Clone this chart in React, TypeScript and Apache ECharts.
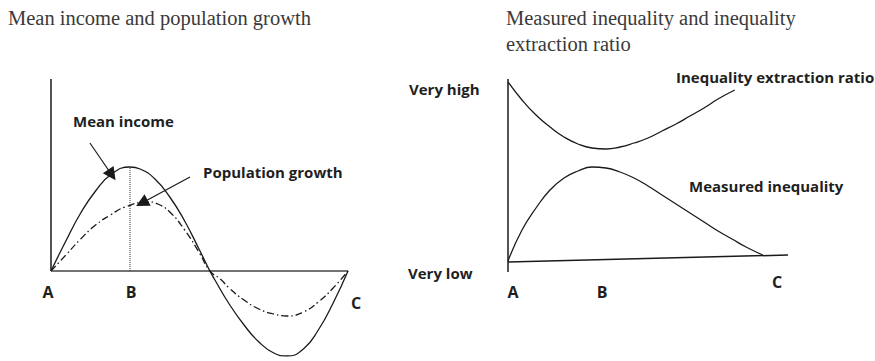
import React, { useEffect, useRef } from "react";
import * as echarts from "echarts";

// ---- Left panel: mean income & population growth (x: A=0 .. C=100) ----
const meanX = [0, 5, 10, 15, 20, 26.6, 30, 35, 40, 45, 50, 53.5, 55, 60, 65, 70, 75, 79.5, 85, 90, 95, 100];
const meanIncome = [0, 30, 58, 80, 96, 104, 102, 92, 74, 50, 21, 0, -8, -33, -54, -71, -82, -85, -78, -59, -32, 0];
const popX = [0, 5, 10, 15, 20, 25, 32.7, 36, 40, 45, 50, 53.5, 57, 60, 65, 70, 75, 79.5, 85, 90, 95, 100];
const popGrowth = [0, 16, 32, 46, 56, 64, 69, 67, 59, 41, 18, 0, -8, -17, -29, -38, -43, -45, -41, -31, -17, 0];
const leftXAxisLine = [[0, 0], [100, 0]];
const leftYAxisLine = [[0, 0], [0, 192]];
const bLine = [[26.6, 0], [26.6, 104]];
const arrowMean = [[13.1, 128], [20.5, 96]];
const arrowPop = [[46.8, 94], [30.6, 68]];

// ---- Right panel: measured inequality & extraction ratio ----
const ierX = [0, 5, 10, 15, 20, 25, 30, 35, 40, 45, 50, 55, 60, 65, 70, 75, 81];
const ier = [190, 172, 157, 145, 135, 128, 124, 123, 125, 129, 134, 141, 148, 156, 164, 173, 182];
const miX = [0, 5, 10, 15, 20, 25, 30, 35, 40, 45, 50, 55, 60, 65, 70, 75, 80, 85, 91];
const mi = [11, 42, 64, 82, 94, 101, 105, 104, 100, 94, 86, 77, 68, 59, 50, 41, 33, 25, 17];
const rightXAxisLine = [[0, 10], [100, 17]];
const rightYAxisLine = [[0, 0], [0, 193]];

const titles = ["Mean income and population growth", "Measured inequality and inequality", "extraction ratio"];
const pointLabels = ["A", "B", "C"];

const zip = (xs: number[], ys: number[]) => xs.map((x, i) => [x, ys[i]]);

export default function App() {
  const ref = useRef<HTMLDivElement>(null);
  useEffect(() => {
    if (!ref.current) return;
    const chart = echarts.init(ref.current, undefined, { renderer: "svg" });
    const ink = "#1a1a1a";
    const lbl = { fontFamily: "Open Sans", fontWeight: "bold", fontSize: 15, fill: "#1f1f1f" } as any;
    const big = { ...lbl, fontSize: 16 };
    const ttl = { fontFamily: "Liberation Serif", fontSize: 20.5, fill: "#3a3a3a" } as any;
    const text = (x: number, y: number, t: string, s: any, align = "left") => ({
      type: "text",
      x,
      y,
      style: { text: t, textAlign: align, textVerticalAlign: "middle", ...s },
    });
    const seg = (data: number[][], idx: number, width: number, type: any = "solid", color = ink) => ({
      type: "line",
      xAxisIndex: idx,
      yAxisIndex: idx,
      data,
      showSymbol: false,
      symbol: "none",
      lineStyle: { color, width, type },
      silent: true,
    });
    const curve = (data: number[][], idx: number, type: any = "solid") => ({
      ...seg(data, idx, 1.3, type),
      smooth: 0.5,
    });
    const arrow = (coords: number[][]) => ({
      type: "lines",
      coordinateSystem: "cartesian2d",
      xAxisIndex: 0,
      yAxisIndex: 0,
      symbol: ["none", "triangle"],
      symbolSize: [0, 13],
      lineStyle: { color: ink, width: 1.2, opacity: 1 },
      data: [{ coords }],
      silent: true,
    });
    chart.setOption({
      animation: false,
      grid: [
        { left: 51, top: 79, width: 297, height: 277 },
        { left: 508, top: 79, width: 280, height: 193 },
      ],
      xAxis: [
        { type: "value", gridIndex: 0, min: 0, max: 100, show: false },
        { type: "value", gridIndex: 1, min: 0, max: 100, show: false },
      ],
      yAxis: [
        { type: "value", gridIndex: 0, min: -85, max: 192, show: false },
        { type: "value", gridIndex: 1, min: 0, max: 193, show: false },
      ],
      series: [
        seg(leftXAxisLine, 0, 1.6, "solid", "#444"),
        seg(leftYAxisLine, 0, 1.5),
        seg(bLine, 0, 1, "dotted", "#333"),
        curve(zip(meanX, meanIncome), 0),
        curve(zip(popX, popGrowth), 0, [7, 3, 1.5, 3]),
        arrow(arrowMean),
        arrow(arrowPop),
        seg(rightXAxisLine, 1, 1.5),
        seg(rightYAxisLine, 1, 1.5),
        curve(zip(ierX, ier), 1),
        curve(zip(miX, mi), 1),
      ],
      graphic: [
        text(8, 18, titles[0], ttl),
        text(506, 18, titles[1], ttl),
        text(506, 44, titles[2], ttl),
        text(73, 121, "Mean income", lbl),
        text(203, 172, "Population growth", lbl),
        text(48, 292, pointLabels[0], big, "center"),
        text(131, 292, pointLabels[1], big, "center"),
        text(356, 303, pointLabels[2], big, "center"),
        text(409, 89, "Very high", lbl),
        text(408, 273, "Very low", lbl),
        text(676, 77, "Inequality extraction ratio", lbl),
        text(689, 186, "Measured inequality", lbl),
        text(513, 292, pointLabels[0], big, "center"),
        text(602, 292, pointLabels[1], big, "center"),
        text(777, 282, pointLabels[2], big, "center"),
      ],
    });
    return () => chart.dispose();
  }, []);
  return (
    <div
      ref={ref}
      style={{ position: "fixed", left: 0, top: 0, width: 875, height: 361, background: "#fff" }}
    />
  );
}
